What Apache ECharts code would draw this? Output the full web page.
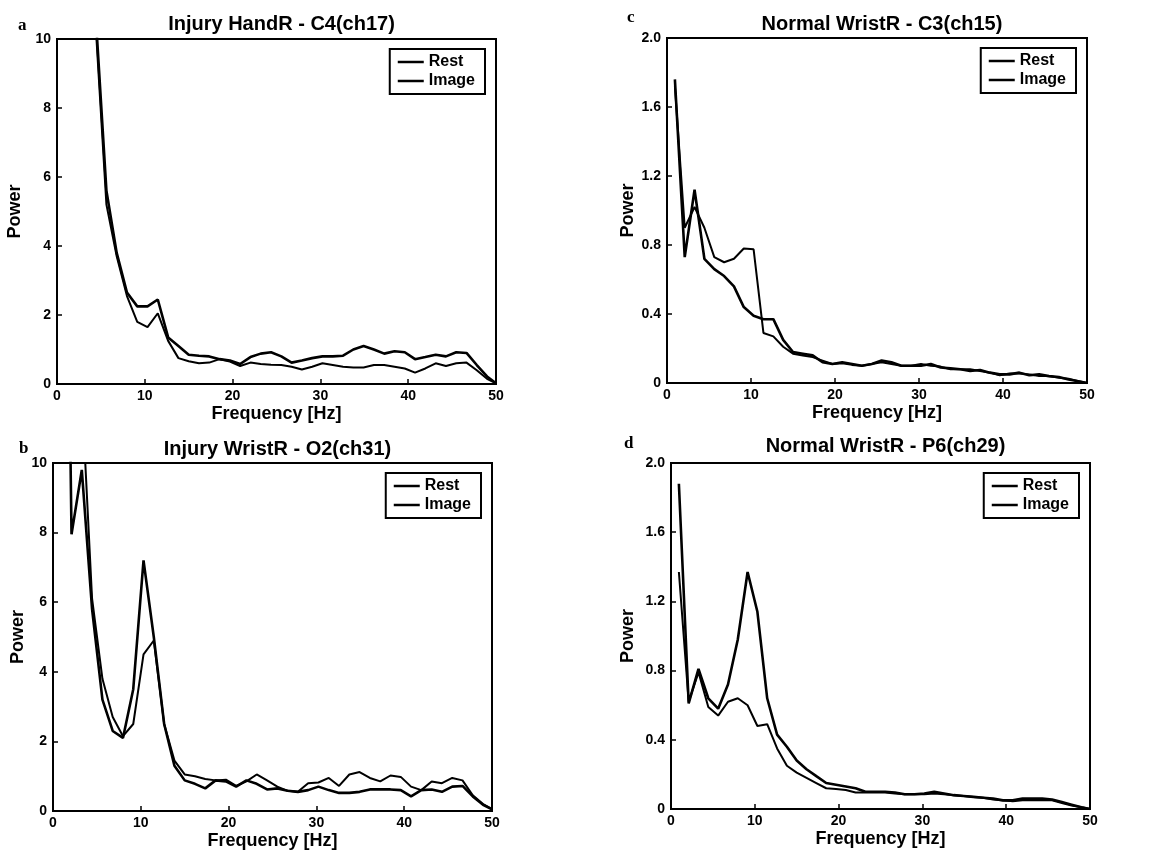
<!DOCTYPE html>
<html>
<head>
    <meta charset="utf-8">
    <title>Power spectra</title>
    <script src="https://cdn.jsdelivr.net/npm/echarts@6/dist/echarts.min.js"></script>
    <style>
        body { margin: 0; background: #fff; }
        #container { width: 1157px; height: 853px; }
    </style>
</head>
<body>
<div id="container"></div>

<script type="text/javascript">
    // frequency bins (Hz)
    var freq = [0.94, 2.11, 3.28, 4.45, 5.63, 6.80, 7.97, 9.14, 10.31, 11.48,
        12.66, 13.83, 15.00, 16.17, 17.34, 18.52, 19.69, 20.86, 22.03, 23.20,
        24.38, 25.55, 26.72, 27.89, 29.06, 30.23, 31.41, 32.58, 33.75, 34.92,
        36.09, 37.27, 38.44, 39.61, 40.78, 41.95, 43.13, 44.30, 45.47, 46.64,
        47.81, 48.98, 50.00];

    // a: Injury HandR - C4(ch17)
    var aRest = [40, 30, 20, 10.5, 5.6, 3.8, 2.65, 2.25, 2.25, 2.45,
        1.35, 1.1, 0.85, 0.82, 0.8, 0.72, 0.68, 0.58, 0.78, 0.88,
        0.92, 0.8, 0.62, 0.68, 0.75, 0.8, 0.8, 0.82, 1.0, 1.1,
        1.0, 0.88, 0.95, 0.92, 0.72, 0.78, 0.85, 0.8, 0.92, 0.9,
        0.55, 0.22, 0.02];
    var aImage = [40, 30, 20, 10.2, 5.2, 3.7, 2.55, 1.8, 1.65, 2.05,
        1.25, 0.75, 0.66, 0.6, 0.62, 0.72, 0.65, 0.52, 0.62, 0.58,
        0.56, 0.55, 0.5, 0.42, 0.5, 0.6, 0.55, 0.5, 0.48, 0.48,
        0.55, 0.55, 0.5, 0.45, 0.33, 0.45, 0.6, 0.52, 0.6, 0.62,
        0.4, 0.15, 0.02];

    // b: Injury WristR - O2(ch31)
    var bRest = [30, 7.95, 9.8, 5.8, 3.2, 2.3, 2.1, 3.5, 7.2, 5.0,
        2.5, 1.3, 0.88, 0.78, 0.65, 0.88, 0.85, 0.7, 0.88, 0.78,
        0.62, 0.65, 0.58, 0.55, 0.6, 0.7, 0.6, 0.52, 0.52, 0.55,
        0.62, 0.62, 0.62, 0.6, 0.42, 0.6, 0.62, 0.55, 0.7, 0.72,
        0.42, 0.18, 0.05];
    var bImage = [30, 12, 12, 6.1, 3.8, 2.7, 2.15, 2.5, 4.5, 4.9,
        2.5, 1.45, 1.05, 1.0, 0.92, 0.88, 0.9, 0.72, 0.85, 1.05,
        0.88, 0.7, 0.58, 0.55, 0.8, 0.82, 0.95, 0.72, 1.05, 1.12,
        0.95, 0.85, 1.02, 0.98, 0.7, 0.6, 0.85, 0.8, 0.95, 0.88,
        0.45, 0.2, 0.05];

    // c: Normal WristR - C3(ch15)
    var cRest = [1.76, 0.73, 1.12, 0.72, 0.66, 0.62, 0.56, 0.44, 0.39, 0.37,
        0.37, 0.25, 0.18, 0.17, 0.16, 0.12, 0.11, 0.12, 0.11, 0.1,
        0.11, 0.13, 0.12, 0.1, 0.1, 0.1, 0.11, 0.09, 0.085, 0.08,
        0.07, 0.075, 0.06, 0.05, 0.05, 0.06, 0.045, 0.05, 0.04, 0.035,
        0.02, 0.01, 0.0];
    var cImage = [1.72, 0.9, 1.02, 0.9, 0.73, 0.7, 0.72, 0.78, 0.775, 0.29,
        0.27, 0.21, 0.17, 0.16, 0.15, 0.13, 0.11, 0.115, 0.105, 0.1,
        0.11, 0.12, 0.11, 0.1, 0.1, 0.11, 0.1, 0.095, 0.08, 0.08,
        0.08, 0.07, 0.06, 0.045, 0.055, 0.055, 0.05, 0.04, 0.04, 0.03,
        0.025, 0.01, 0.0];

    // d: Normal WristR - P6(ch29)
    var dRest = [1.88, 0.61, 0.81, 0.64, 0.58, 0.72, 0.98, 1.37, 1.14, 0.64,
        0.43, 0.36, 0.28, 0.23, 0.19, 0.15, 0.14, 0.13, 0.12, 0.1,
        0.1, 0.1, 0.095, 0.085, 0.085, 0.09, 0.1, 0.09, 0.08, 0.075,
        0.07, 0.065, 0.06, 0.05, 0.05, 0.06, 0.06, 0.06, 0.055, 0.04,
        0.025, 0.01, 0.0];
    var dImage = [1.37, 0.62, 0.79, 0.59, 0.54, 0.62, 0.64, 0.6, 0.48, 0.49,
        0.35, 0.25, 0.21, 0.18, 0.15, 0.12, 0.115, 0.11, 0.095, 0.095,
        0.095, 0.095, 0.09, 0.085, 0.085, 0.085, 0.09, 0.085, 0.08, 0.075,
        0.07, 0.065, 0.055, 0.05, 0.045, 0.05, 0.05, 0.05, 0.05, 0.035,
        0.02, 0.01, 0.0];

    var panelTitles = ['Injury HandR - C4(ch17)', 'Injury WristR - O2(ch31)',
        'Normal WristR - C3(ch15)', 'Normal WristR - P6(ch29)'];
    var panelLetters = ['a', 'b', 'c', 'd'];

    var font = '"Liberation Sans", Arial, sans-serif';

    // axes boxes, in order a, b, c, d
    var boxes = [
        {left: 57, top: 39, width: 439, height: 345},
        {left: 53, top: 463, width: 439, height: 348},
        {left: 667, top: 38, width: 420, height: 345},
        {left: 671, top: 463, width: 419, height: 346}
    ];
    var yMax = [10, 10, 2, 2];
    var yStep = [2, 2, 0.4, 0.4];
    var yNameGap = [33, 24, 30, 34];
    var titleTop = [9, 434, 9, 431];
    var letterPos = [[18, 17], [19, 440], [627, 9], [624, 435]];
    var restData = [aRest, bRest, cRest, dRest];
    var imageData = [aImage, bImage, cImage, dImage];

    function pairs(ys) {
        var out = [];
        for (var i = 0; i < freq.length; i++) {
            out.push([freq[i], ys[i]]);
        }
        return out;
    }

    var grid = [], xAxis = [], yAxis = [], series = [], title = [], legend = [], graphic = [];

    for (var p = 0; p < 4; p++) {
        var b = boxes[p];
        grid.push({
            left: b.left, top: b.top, width: b.width, height: b.height,
            show: true, borderColor: '#000', borderWidth: 2, backgroundColor: 'transparent'
        });
        xAxis.push({
            type: 'value', gridIndex: p, min: 0, max: 50, interval: 10,
            name: 'Frequency [Hz]', nameLocation: 'middle', nameGap: 21,
            nameTextStyle: {color: '#000', fontSize: 18, fontWeight: 'bold', fontFamily: font},
            axisLine: {show: true, lineStyle: {color: '#000', width: 2}},
            axisTick: {show: true, inside: true, length: 5, lineStyle: {color: '#000', width: 1.5}},
            axisLabel: {color: '#000', fontSize: 14, fontWeight: 'bold', fontFamily: font, margin: 5},
            splitLine: {show: false}
        });
        yAxis.push({
            type: 'value', gridIndex: p, min: 0, max: yMax[p], interval: yStep[p],
            name: 'Power', nameLocation: 'middle', nameGap: yNameGap[p],
            nameTextStyle: {color: '#000', fontSize: 18, fontWeight: 'bold', fontFamily: font},
            axisLine: {show: true, lineStyle: {color: '#000', width: 2}},
            axisTick: {show: true, inside: true, length: 5, lineStyle: {color: '#000', width: 1.5}},
            axisLabel: {
                color: '#000', fontSize: 14, fontWeight: 'bold', fontFamily: font, margin: 6,
                formatter: (function (step) {
                    return function (v) { return (v === 0 || step >= 1) ? String(v) : v.toFixed(1); };
                })(yStep[p])
            },
            splitLine: {show: false}
        });
        series.push({
            name: 'Rest', type: 'line', xAxisIndex: p, yAxisIndex: p,
            data: pairs(restData[p]), symbol: 'none', clip: true,
            lineStyle: {color: '#000', width: 2.6}, itemStyle: {color: '#000'}
        });
        series.push({
            name: 'Image', type: 'line', xAxisIndex: p, yAxisIndex: p,
            data: pairs(imageData[p]), symbol: 'none', clip: true,
            lineStyle: {color: '#000', width: 2}, itemStyle: {color: '#000'}
        });
        title.push({
            text: panelTitles[p], left: b.left + b.width / 2, top: titleTop[p], textAlign: 'center',
            textStyle: {color: '#000', fontSize: 20, fontWeight: 'bold', fontFamily: font}
        });
        legend.push({
            data: ['Rest', 'Image'], orient: 'vertical', align: 'left',
            right: 1157 - (b.left + b.width - 11), top: b.top + 10,
            icon: 'rect', itemWidth: 26, itemHeight: 2.5, itemGap: 3,
            padding: [5, 10, 5, 8],
            borderColor: '#000', borderWidth: 2, backgroundColor: '#fff',
            selectedMode: false,
            textStyle: {color: '#000', fontSize: 16, fontWeight: 'bold', fontFamily: font}
        });
        graphic.push({
            type: 'text', left: letterPos[p][0], top: letterPos[p][1],
            style: {text: panelLetters[p], fill: '#000', font: 'bold 17px "Liberation Serif", serif'}
        });
    }

    var mychart = echarts.init(document.getElementById('container'));
    mychart.setOption({
        backgroundColor: '#fff',
        animation: false,
        title: title,
        legend: legend,
        grid: grid,
        xAxis: xAxis,
        yAxis: yAxis,
        series: series,
        graphic: graphic
    });
</script>
</body>
</html>
